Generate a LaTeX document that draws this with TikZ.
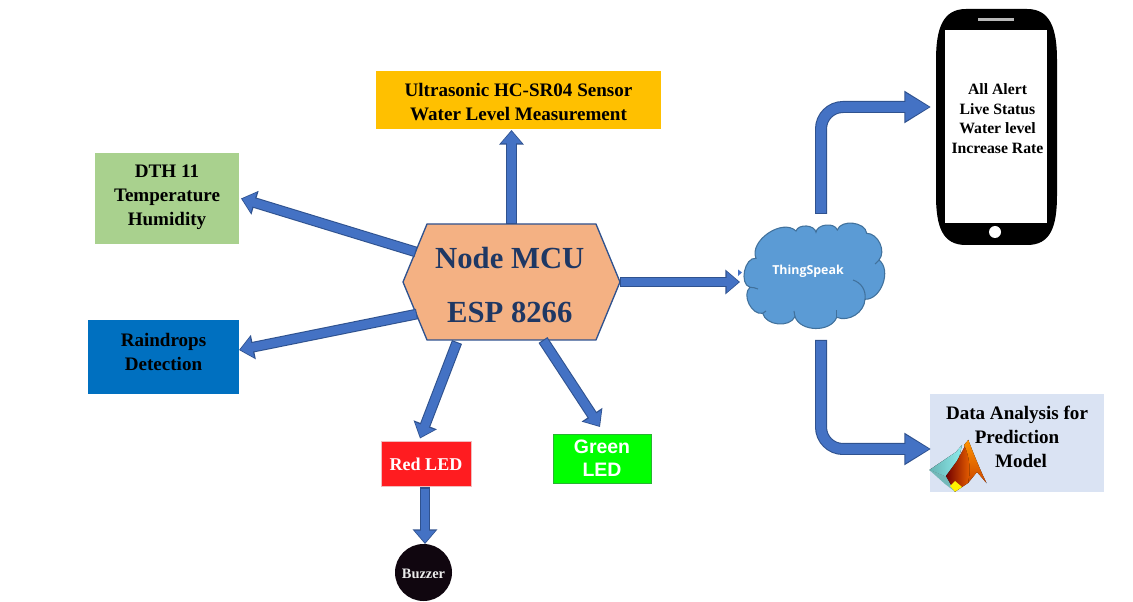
\documentclass[tikz,border=0pt]{standalone}
\usepackage{fontspec}
\setmainfont{Liberation Serif}
\newfontfamily\arialf{Liberation Sans}
\newfontfamily\thingf{Open Sans}
\usetikzlibrary{arrows.meta,shapes.symbols,shapes.geometric}
\definecolor{arrowfill}{HTML}{4472C4}
\definecolor{arrowedge}{HTML}{2F528F}
\definecolor{hexfill}{HTML}{F4B183}
\definecolor{hextext}{HTML}{1F3864}
\definecolor{cloudfill}{HTML}{5B9BD5}
\definecolor{cloudedge}{HTML}{41719C}
\def\pxu{0.75pt}
\tikzset{
  x=0.75pt,y=-0.75pt,
  box/.style={rectangle,inner sep=0pt,outer sep=0pt,align=center,font=\bfseries\fontsize{14.3}{18}\selectfont},
  lab/.style={inner sep=0pt,outer sep=0pt,align=center,font=\bfseries\fontsize{14.3}{18}\selectfont},
  fatarrow/.style={line cap=butt,
    preaction={draw=arrowedge,line width=8pt,shorten >=0pt,shorten <=0pt,-{Triangle[length=11pt,width=18pt]}},
    draw=arrowfill,line width=6.4pt,shorten >=1pt,shorten <=0.8pt,-{Triangle[length=9pt,width=15pt]}},
  bigarrow/.style={line cap=butt,
    preaction={draw=arrowedge,line width=9pt,shorten >=0pt,shorten <=0pt,-{Triangle[length=20pt,width=23pt]}},
    draw=arrowfill,line width=7.4pt,shorten >=1.2pt,shorten <=0.8pt,-{Triangle[length=18pt,width=20pt]}},
  cloudline/.style={draw=cloudedge,line width=0.8pt},
}
\begin{document}
\begin{tikzpicture}
\useasboundingbox (0,0) rectangle (1133,602);
% boxes
\node[box,fill={rgb,255:red,255;green,192;blue,0},minimum width=285*\pxu,minimum height=58*\pxu,
  label={[lab,yshift=-1.5pt]center:{Ultrasonic HC-SR04 Sensor\\Water Level Measurement}}] (ultra) at (518.5,100) {};
\node[box,fill={rgb,255:red,169;green,209;blue,142},minimum width=144*\pxu,minimum height=91*\pxu,
  label={[lab,yshift=0.6pt]center:{DTH 11\\Temperature\\Humidity}}] (dth) at (167,198.5) {};
\node[box,fill={rgb,255:red,0;green,112;blue,192},minimum width=151*\pxu,minimum height=74*\pxu,
  label={[lab,yshift=3.75pt]center:{Raindrops\\Detection}}] (rain) at (163.5,357) {};
\node[box,fill={rgb,255:red,255;green,28;blue,32},draw={rgb,255:red,240;green,190;blue,190},line width=0.5pt,text=white,font=\bfseries\fontsize{13.5}{15}\selectfont,minimum width=90*\pxu,minimum height=45*\pxu] (red) at (426,464) {Red LED};
\node[box,fill={rgb,255:red,0;green,255;blue,0},draw={rgb,255:red,40;green,180;blue,50},line width=0.5pt,text=white,font=\arialf\bfseries\fontsize{14.6}{17.3}\selectfont,minimum width=98*\pxu,minimum height=49*\pxu] (green) at (602,458.5) {Green\\LED};
\node[circle,inner sep=0pt,outer sep=0pt,fill={rgb,255:red,16;green,6;blue,15},minimum size=57*\pxu,
  label={[text={rgb,255:red,235;green,235;blue,235},font=\bfseries\fontsize{10.8}{12}\selectfont,inner sep=0pt,yshift=-1.4pt]center:Buzzer}] (buzzer) at (423.5,572.5) {};
\node[box,fill={rgb,255:red,218;green,227;blue,243},minimum width=174*\pxu,minimum height=98*\pxu,
  label={[lab,yshift=4.5pt]center:{Data Analysis for\\Prediction\\\hspace*{6pt}Model}}] (data) at (1017,443) {};
% hexagon
\node[signal,signal to=west and east,signal pointer angle=135,draw=arrowedge,line width=1pt,fill=hexfill,inner sep=0pt,outer sep=0pt,
  minimum width=217*\pxu,minimum height=116*\pxu,
  label={[text=hextext,inner sep=0pt,align=center,font=\bfseries\fontsize{23}{40}\selectfont,yshift=-2.25pt,xshift=-1.3pt]center:{Node MCU\\ESP 8266}}] (hex) at (511.5,282) {};
% cloud
\filldraw[cloudline,fill=cloudfill]
  (756,258.3) to[bend left=78] (796,231) to[bend left=75] (816,232.3) to[bend left=78] (837.3,230)
  to[bend left=78] (866.7,233.3) to[bend left=65] (879,260) to[bend left=72] (865,299.3)
  to[bend left=55] (836.7,317.3) to[bend left=70] (795,316.7) to[bend left=70] (762.7,313.3)
  to[bend left=75] (750,287.3) to[bend left=85] (756,258.3) -- cycle;
\draw[cloudline] (853,280) to[bend left=40] (865,299.3);
\draw[cloudline] (750,287.3) to[bend left=10] (758,289);
\draw[cloudline] (762.7,313.3) to[bend left=10] (766,311);
\draw[cloudline] (795,316.7) to[bend right=10] (794,311);
\draw[cloudline] (836.7,317.3) to[bend right=5] (836.7,310);
\draw[cloudline] (879,260) to[bend left=10] (875,264);
\node[inner sep=0pt,outer sep=0pt,minimum width=136*\pxu,minimum height=100*\pxu,text=white,font=\thingf\bfseries\fontsize{9.3}{11}\selectfont] (cloud) at (808,271) {ThingSpeak};
\fill[arrowfill] (738,269.5) -- (742,272.5) -- (738,276) -- cycle;
% phone
\node[inner sep=0pt,outer sep=0pt,minimum width=121*\pxu,minimum height=236*\pxu] (phone) at (996.5,127) {};
\fill[black] (966,9) -- (1027,9) .. controls (1050,9) and (1057,28) .. (1057,60) -- (1057,195)
  .. controls (1057,228) and (1050,245) .. (1027,245) -- (966,245)
  .. controls (943,245) and (936,228) .. (936,195) -- (936,60)
  .. controls (936,28) and (943,9) .. (966,9) -- cycle;
\node[inner sep=0pt,outer sep=0pt,fill=white,minimum width=102*\pxu,minimum height=193*\pxu] (screen) at (995.5,126.5) {};
\node[inner sep=0pt,outer sep=0pt,fill=white,minimum size=12*\pxu,circle] (home) at (995,232) {};
\fill[gray!55] (978,18.5) rectangle (1014,21);
\node[lab,font=\bfseries\fontsize{11.8}{14.6}\selectfont] (alerts) at (997.5,118.5) {All Alert\\Live Status\\Water level\\Increase Rate};
% MATLAB logo
\fill[left color=teal!60!white,right color=cyan!35!white!85!teal] (929.3,470) -- (956,452) -- (962,445) -- (958,462) -- (947,477) -- cycle;
\fill[teal!55!white] (929.3,470) -- (947,477) -- (955,491.7) -- (945,484) -- cycle;
\fill[left color=red!45!black,right color=orange!90!red] (946,476) -- (957,461) -- (968.3,440) -- (975,470) -- (968,483) -- (955,491.7) -- cycle;
\fill[top color=orange!85!yellow,bottom color=orange!70!red!80!black] (968.3,440) .. controls (973,452) and (980,470) .. (986.7,483.3) -- (977,472) -- (968,483) .. controls (972,468) and (968,452) .. (964,445) -- cycle;
\fill[yellow] (950,486) -- (955,491.7) -- (962,487) -- (955,481) -- cycle;
% connectors
\draw[fatarrow] (hex.north) -- ([shift={(-7,1)}]ultra.south);
\draw[fatarrow] ([shift={(-95.5,-30)}]hex.center) -- ([shift={(2,0)}]dth.east);
\draw[fatarrow] ([shift={(-94.5,32)}]hex.center) -- ([shift={(0,-7)}]rain.east);
\draw[fatarrow] ([shift={(-54.5,60)}]hex.center) -- ([shift={(-6,-3)}]red.north);
\draw[fatarrow] ([shift={(31.5,58)}]hex.center) -- ([shift={(-2,-7)}]green.north);
\draw[fatarrow] ([shift={(-1,1)}]red.south) -- ([shift={(1.5,0)}]buzzer.north);
\draw[fatarrow] (hex.east) -- (hex.east -| cloud.west);
\draw[bigarrow,rounded corners=22*\pxu] ([shift={(13,-7)}]cloud.north) |- ([shift={(-5,-20)}]phone.west);
\draw[bigarrow,rounded corners=22*\pxu] ([shift={(13,19)}]cloud.south) |- ([shift={(1,6)}]data.west);
\end{tikzpicture}
\end{document}
